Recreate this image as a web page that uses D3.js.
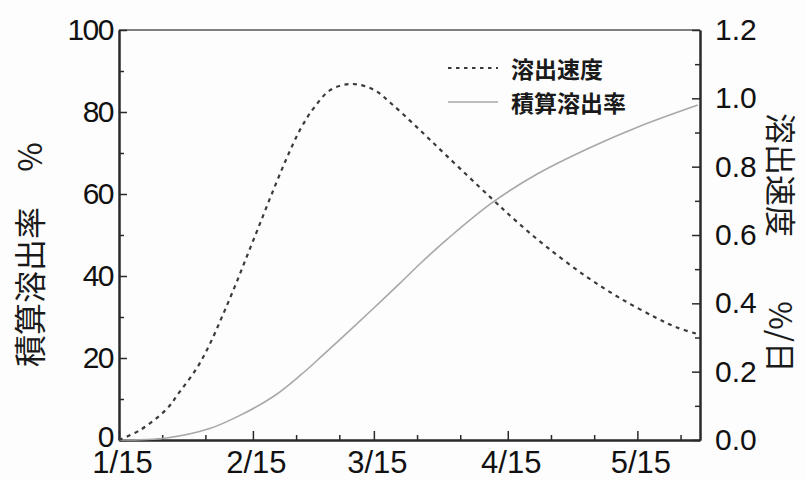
<!DOCTYPE html>
<html>
<head>
<meta charset="utf-8">
<script src="https://cdn.jsdelivr.net/npm/d3@7"></script>
<style>
  html, body { margin: 0; padding: 0; background: #fdfdfd; }
  svg { display: block; }
</style>
</head>
<body>
<script>
// 溶出速度 (%/日), right axis
const rateDates = ['2019-01-15', '2019-01-20', '2019-01-26', '2019-01-29', '2019-02-02', '2019-02-05',
  '2019-02-08', '2019-02-11', '2019-02-14', '2019-02-17', '2019-02-20', '2019-02-23', '2019-02-26',
  '2019-03-01', '2019-03-05', '2019-03-10', '2019-03-15', '2019-03-19', '2019-03-25', '2019-04-01',
  '2019-04-11', '2019-04-17', '2019-04-24', '2019-05-03', '2019-05-11', '2019-05-19',
  '2019-05-24', '2019-05-29'];
const rateValues = [0.0, 0.03, 0.09, 0.14, 0.21, 0.28,
  0.365, 0.455, 0.55, 0.645, 0.74, 0.83, 0.91,
  0.97, 1.025, 1.042, 1.025, 0.985, 0.915, 0.83,
  0.71, 0.64, 0.565, 0.48, 0.415, 0.36,
  0.33, 0.31];

// 積算溶出率 (%), left axis
const cumDates = ['2019-01-15', '2019-01-26', '2019-02-05', '2019-02-12', '2019-02-20', '2019-02-26',
  '2019-03-03', '2019-03-09', '2019-03-15', '2019-03-21', '2019-03-26', '2019-04-01', '2019-04-11',
  '2019-04-22', '2019-05-04', '2019-05-15', '2019-05-29'];
const cumValues = [0, 0.5, 2.8, 6.0, 10.8, 15.8,
  20.5, 26.3, 32.2, 38.2, 43.3, 49, 57.6,
  65.0, 71.3, 76.3, 81.7];

const majorTickDates = ['2019-01-15', '2019-02-15', '2019-03-15', '2019-04-15', '2019-05-15'];
const minorTickDates = ['2019-01-25', '2019-02-04', '2019-02-25', '2019-03-07', '2019-03-25',
  '2019-04-04', '2019-04-25', '2019-05-05', '2019-05-25'];
const leftTicks = [0, 20, 40, 60, 80, 100];
const rightTicks = [0, 0.2, 0.4, 0.6, 0.8, 1.0, 1.2];

const seriesNames = ['溶出速度', '積算溶出率'];

const width = 805, height = 481;
const margin = { top: 30, right: 105, bottom: 41, left: 119 };

const parse = d3.utcParse('%Y-%m-%d');
const fmtTick = d3.utcFormat('%-m/%-d');

const svg = d3.select('body').append('svg')
  .attr('width', width)
  .attr('height', height)
  .style('background', '#fdfdfd');

const x = d3.scaleUtc()
  .domain([parse('2019-01-15'), new Date(Date.UTC(2019, 4, 29, 12))])
  .range([margin.left, width - margin.right]);

const yL = d3.scaleLinear().domain([0, 100]).range([height - margin.bottom, margin.top]);
const yR = d3.scaleLinear().domain([0, 1.2]).range([height - margin.bottom, margin.top]);

const axisColor = '#2a2a2a';
const numFont = '"Liberation Sans", Arial, sans-serif';
const cjkFont = '"Noto Sans CJK JP", "Noto Sans CJK SC", sans-serif';

// frame top line
svg.append('line')
  .attr('x1', margin.left).attr('x2', width - margin.right)
  .attr('y1', margin.top).attr('y2', margin.top)
  .attr('stroke', '#555').attr('stroke-width', 1.5);

const styleAxis = g => {
  g.select('.domain').attr('stroke', axisColor).attr('stroke-width', 2);
  g.selectAll('.tick line').attr('stroke', axisColor).attr('stroke-width', 1.5);
  g.selectAll('text').attr('fill', '#111');
};

// bottom axis: minor ticks first, then major with labels
svg.append('g')
  .attr('transform', `translate(0,${height - margin.bottom})`)
  .call(d3.axisBottom(x).tickValues(minorTickDates.map(parse)).tickSizeInner(-5).tickSizeOuter(0).tickFormat(''))
  .call(styleAxis);

svg.append('g')
  .attr('transform', `translate(0,${height - margin.bottom})`)
  .call(d3.axisBottom(x).tickValues(majorTickDates.map(parse)).tickSizeInner(-9).tickSizeOuter(0)
    .tickPadding(11).tickFormat(fmtTick))
  .call(styleAxis)
  .call(g => g.selectAll('text')
    .attr('dx', 3)
    .style('font-family', numFont)
    .style('font-size', '31px'));

// left axis
const leftMinor = d3.range(10, 100, 20);
svg.append('g')
  .attr('transform', `translate(${margin.left},0)`)
  .call(d3.axisLeft(yL).tickValues(leftMinor).tickSizeInner(-5).tickSizeOuter(0).tickFormat(''))
  .call(styleAxis);
svg.append('g')
  .attr('transform', `translate(${margin.left},0)`)
  .call(d3.axisLeft(yL).tickValues(leftTicks).tickSizeInner(-8).tickSizeOuter(0).tickPadding(6))
  .call(styleAxis)
  .call(g => g.selectAll('text')
    .style('font-family', numFont)
    .style('font-size', '30px')
    .style('letter-spacing', '-1.5px'))
  .call(g => g.selectAll('.tick').filter(d => d === 0).select('text').attr('dy', '0.2em'));

// right axis
const rightMinor = d3.range(0.1, 1.2, 0.2);
svg.append('g')
  .attr('transform', `translate(${width - margin.right},0)`)
  .call(d3.axisRight(yR).tickValues(rightMinor).tickSizeInner(-5).tickSizeOuter(0).tickFormat(''))
  .call(styleAxis);
svg.append('g')
  .attr('transform', `translate(${width - margin.right},0)`)
  .call(d3.axisRight(yR).tickValues(rightTicks).tickSizeInner(-8).tickSizeOuter(0).tickPadding(15)
    .tickFormat(d3.format('.1f')))
  .call(styleAxis)
  .call(g => g.selectAll('text')
    .style('font-family', numFont)
    .style('font-size', '30px'));

// lines
const cumData = cumDates.map((d, i) => ({ date: parse(d), value: cumValues[i] }));
const rateData = rateDates.map((d, i) => ({ date: parse(d), value: rateValues[i] }));

svg.append('path')
  .datum(cumData)
  .attr('fill', 'none')
  .attr('stroke', '#a8a8a8')
  .attr('stroke-width', 1.6)
  .attr('d', d3.line().curve(d3.curveCatmullRom.alpha(0.5)).x(d => x(d.date)).y(d => yL(d.value)));

svg.append('path')
  .datum(rateData)
  .attr('fill', 'none')
  .attr('stroke', '#3a3a3a')
  .attr('stroke-width', 2.2)
  .attr('stroke-dasharray', '4,4.5')
  .attr('d', d3.line().curve(d3.curveCatmullRom.alpha(0.5)).x(d => x(d.date)).y(d => yR(d.value)));

// legend
const legend = svg.append('g').attr('transform', 'translate(448,68)');
legend.append('line')
  .attr('x1', 0).attr('x2', 50).attr('y1', 0).attr('y2', 0)
  .attr('stroke', '#3a3a3a').attr('stroke-width', 1.8).attr('stroke-dasharray', '3.5,4.5');
legend.append('line')
  .attr('x1', 0).attr('x2', 50).attr('y1', 34).attr('y2', 34)
  .attr('stroke', '#a8a8a8').attr('stroke-width', 1.4);
legend.selectAll('text.lg')
  .data(seriesNames)
  .join('text')
  .attr('class', 'lg')
  .attr('x', 63)
  .attr('y', (d, i) => i * 34)
  .attr('dominant-baseline', 'central')
  .style('font-family', cjkFont)
  .style('font-size', '23px')
  .style('font-weight', 'bold')
  .attr('fill', '#1a1a1a')
  .text(d => d);

// axis titles
const leftTitle = svg.append('g').attr('transform', 'translate(28,0)');
leftTitle.append('text')
  .attr('transform', 'translate(0,287) rotate(-90)')
  .attr('text-anchor', 'middle')
  .attr('dominant-baseline', 'central')
  .style('font-family', cjkFont)
  .style('font-size', '32px')
  .attr('fill', '#1a1a1a')
  .text('積算溶出率');
leftTitle.append('text')
  .attr('transform', 'translate(0,157) rotate(-90)')
  .attr('text-anchor', 'middle')
  .attr('dominant-baseline', 'central')
  .style('font-family', cjkFont)
  .style('font-size', '32px')
  .attr('fill', '#1a1a1a')
  .text('%');

const rightTitle = svg.append('g').attr('transform', 'translate(782,0)');
rightTitle.append('text')
  .attr('transform', 'translate(0,175) rotate(90)')
  .attr('text-anchor', 'middle')
  .attr('dominant-baseline', 'central')
  .style('font-family', cjkFont)
  .style('font-size', '31px')
  .attr('fill', '#1a1a1a')
  .text('溶出速度');
rightTitle.append('text')
  .attr('transform', 'translate(0,337) rotate(90)')
  .attr('text-anchor', 'middle')
  .attr('dominant-baseline', 'central')
  .style('font-family', cjkFont)
  .style('font-size', '31px')
  .attr('fill', '#1a1a1a')
  .text('%/日');
</script>
</body>
</html>
